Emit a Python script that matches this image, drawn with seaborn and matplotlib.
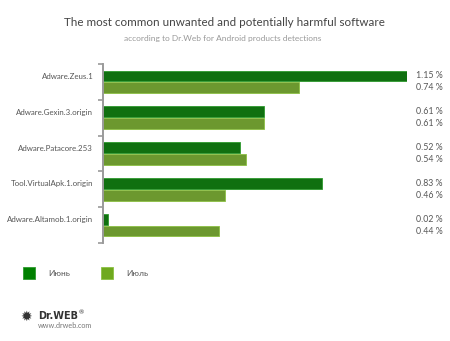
import matplotlib
matplotlib.use("Agg")
import matplotlib.pyplot as plt
import seaborn as sns
import pandas as pd
from matplotlib.patches import Rectangle
import matplotlib.transforms as mtrans

categories = ["Adware.Zeus.1", "Adware.Gexin.3.origin", "Adware.Patacore.253",
              "Tool.VirtualApk.1.origin", "Adware.Altamob.1.origin"]
june = [1.15, 0.61, 0.52, 0.83, 0.02]
july = [0.74, 0.61, 0.54, 0.46, 0.44]
series_names = ["Июнь", "Июль"]
colors = ["#008000", "#6FA91E"]
edge_colors = ["#2E9A2E", "#8CC043"]

df = pd.DataFrame({
    "name": categories * 2,
    "value": june + july,
    "month": [series_names[0]] * len(categories) + [series_names[1]] * len(categories),
})

sns.set_theme(style="white")
plt.rcParams["font.family"] = ["Lato", "DejaVu Sans"]

fig = plt.figure(figsize=(4.5, 3.41), dpi=100)
W, H = 450, 341
ax = fig.add_axes([103 / W, 1 - 243 / H, (407 - 103) / W, (243 - 64) / H])

sns.barplot(data=df, y="name", x="value", hue="month", order=categories,
            hue_order=series_names, palette=colors, width=0.66, gap=0.1,
            orient="h", ax=ax, legend=False)

for i, cont in enumerate(ax.containers):
    for p in cont:
        p.set_edgecolor(edge_colors[i])
        p.set_linewidth(0.6)

ax.set_xlim(0, 1.15)
ax.set_ylim(len(categories) - 0.5, -0.5)
ax.set_xlabel("")
ax.set_ylabel("")
ax.set_xticks([])
for s in ["top", "right", "bottom"]:
    ax.spines[s].set_visible(False)
ax.spines["left"].set_color("#9a9a9a")
ax.spines["left"].set_linewidth(1.4)

ax.set_yticks(range(len(categories)))
ax.set_yticklabels(categories, fontsize=5.7, color="#555555")
ax.tick_params(axis="y", which="major", length=0, pad=7)
ax.set_yticks([i - 0.5 for i in range(len(categories) + 1)], minor=True)
ax.tick_params(axis="y", which="minor", length=3.5, width=1.2, color="#9a9a9a", left=True)
shift = mtrans.ScaledTranslation(0, 6 / 100, fig.dpi_scale_trans)
for lab in ax.get_yticklabels():
    lab.set_transform(lab.get_transform() + shift)

# value labels
trans = mtrans.blended_transform_factory(fig.transFigure, ax.transData)
for i, cont in enumerate(ax.containers):
    vals = june if i == 0 else july
    for p, v in zip(cont, vals):
        yc = p.get_y() + p.get_height() / 2
        ax.text(416 / W, yc, f"{v:.2f} %", transform=trans, fontsize=6.3,
                color="#555555", va="center", ha="left")

# titles
fig.text(224 / W, 1 - 22 / H, "The most common unwanted and potentially harmful software",
         ha="center", va="center", fontsize=8.4, color="#444444")
fig.text(223 / W, 1 - 38 / H, "according to Dr.Web for Android products detections",
         ha="center", va="center", fontsize=6.0, color="#999999")

# legend
for k, (name, c, ec) in enumerate(zip(series_names, colors, edge_colors)):
    x0 = [23, 101][k]
    fig.add_artist(Rectangle((x0 / W, 1 - 279 / H), 12 / W, 12 / H,
                             transform=fig.transFigure, facecolor=c, edgecolor=ec, lw=0.6))
    fig.text((x0 + 25) / W, 1 - 273 / H, name, fontsize=6.0, color="#555555",
             va="center", ha="left")

# logo
fig.text(26 / W, 1 - 317 / H, "✹", fontsize=10, color="#333333", ha="center", va="center",
         family=["DejaVu Sans"])
fig.text(38 / W, 1 - 316 / H, "Dr.WEB", fontsize=7, fontweight="bold", color="#333333",
         va="center", ha="left", family=["DejaVu Sans"])
fig.text(79 / W, 1 - 313 / H, "®", fontsize=4.5, color="#333333", va="center", ha="left")
fig.text(38 / W, 1 - 326 / H, "www.drweb.com", fontsize=5.2, color="#777777",
         va="center", ha="left")

fig.savefig("out.png", dpi=100)
